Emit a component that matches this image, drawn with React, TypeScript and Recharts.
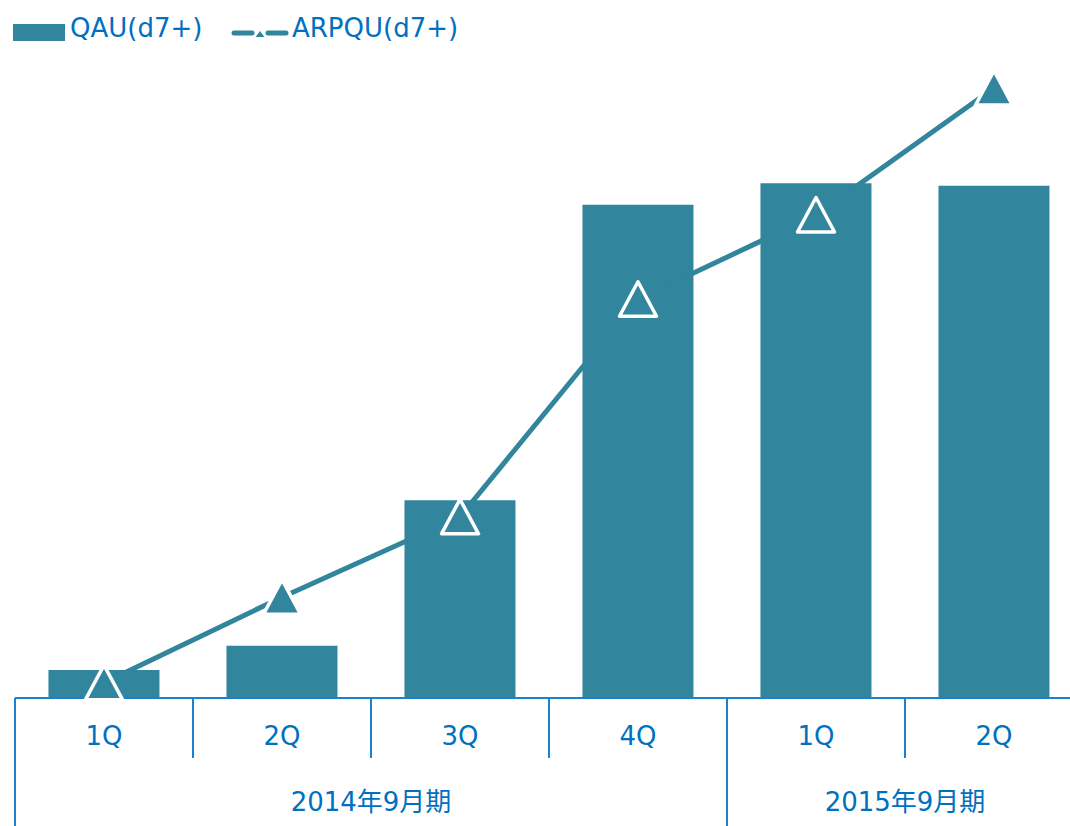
import React from "react";
import { ComposedChart, Bar, Line, XAxis, YAxis, Legend } from "recharts";

// 四半期ラベル、決算期、QAU（棒）と ARPQU（折れ線）の相対値
const quarters = ["1Q", "2Q", "3Q", "4Q", "1Q", "2Q"];
const fiscalYears = [
  "2014年9月期",
  "2014年9月期",
  "2014年9月期",
  "2014年9月期",
  "2015年9月期",
  "2015年9月期",
];
const qau = [4.4, 8.2, 31.0, 77.3, 80.7, 80.3];
const arpqu = [2.4, 15.8, 28.4, 62.5, 75.7, 95.6];

const data = quarters.map((q, i) => ({
  q,
  fy: fiscalYears[i],
  qau: qau[i],
  arpqu: arpqu[i],
}));

const TEAL = "#31859c";
const TEXT = "#0070c0";
const RULE = "#1a80d0";
const FONT = "'DejaVu Sans', Verdana, 'Noto Sans CJK JP', sans-serif";

const CHART_W = 1090;
const CHART_H = 826;
const MARGIN = { top: 4, right: 7, bottom: 0, left: 15 };
const BAND = (CHART_W - MARGIN.left - MARGIN.right) / quarters.length;
const AXIS_H = 64;

function QuarterTick(props: any) {
  const { x, y, payload } = props;
  return (
    <g>
      <line x1={x - BAND / 2} x2={x - BAND / 2} y1={y} y2={y + 60} stroke={RULE} strokeWidth={2} />
      <text x={x} y={y + 47} textAnchor="middle" fill={TEXT} fontSize={26} fontFamily={FONT}>
        {payload.value}
      </text>
    </g>
  );
}

function YearTick(props: any) {
  const { x, y, payload } = props;
  const i = props.index ?? payload.index;
  if (i > 0 && fiscalYears[i - 1] === payload.value) return <g />;
  const count = fiscalYears.filter((f) => f === payload.value).length;
  return (
    <g>
      <line x1={x - BAND / 2} x2={x - BAND / 2} y1={y - AXIS_H} y2={y + AXIS_H} stroke={RULE} strokeWidth={2} />
      <text
        x={x + ((count - 1) * BAND) / 2}
        y={y + 49}
        textAnchor="middle"
        fill={TEXT}
        fontSize={26}
        fontFamily={FONT}
      >
        {payload.value}
      </text>
    </g>
  );
}

function TriangleDot(props: any) {
  const { cx, cy, index } = props;
  if (cx == null || cy == null) return <g key={index} />;
  const d = `M${cx},${cy - 17.5} L${cx + 18.5},${cy + 17} L${cx - 18.5},${cy + 17} Z`;
  return <path key={index} d={d} fill={TEAL} stroke="#ffffff" strokeWidth={3.5} strokeLinejoin="round" />;
}

function LegendBox() {
  return (
    <svg width={480} height={56} style={{ display: "block" }}>
      <rect x={13} y={20} width={52} height={17} fill={TEAL} />
      <text x={70} y={33} fill={TEXT} fontSize={26} fontFamily={FONT}>
        QAU(d7+)
      </text>
      <line x1={234} x2={252} y1={29} y2={29} stroke={TEAL} strokeWidth={5} strokeLinecap="round" />
      <line x1={268} x2={286} y1={29} y2={29} stroke={TEAL} strokeWidth={5} strokeLinecap="round" />
      <path d="M260,27 L264.5,33 L255.5,33 Z" fill={TEAL} />
      <text x={292} y={33} fill={TEXT} fontSize={26} fontFamily={FONT}>
        ARPQU(d7+)
      </text>
    </svg>
  );
}

export default function App() {
  return (
    <div
      style={{
        position: "absolute",
        left: 0,
        top: 0,
        width: 1070,
        height: CHART_H,
        overflow: "hidden",
        background: "#ffffff",
      }}
    >
      <ComposedChart width={CHART_W} height={CHART_H} data={data} margin={MARGIN} barCategoryGap="18.8%">
        <Legend
          verticalAlign="top"
          align="left"
          content={() => <LegendBox />}
          wrapperStyle={{ left: 0, top: 4, width: 480, height: 56 }}
        />
        <XAxis
          dataKey="q"
          height={AXIS_H}
          axisLine={{ stroke: RULE, strokeWidth: 2 }}
          tickLine={false}
          tickSize={0}
          tickMargin={0}
          interval={0}
          tick={QuarterTick}
        />
        <XAxis
          xAxisId="fy"
          dataKey="fy"
          height={AXIS_H}
          axisLine={false}
          tickLine={false}
          tickSize={0}
          tickMargin={0}
          interval={0}
          tick={YearTick}
        />
        <YAxis yAxisId="qau" hide domain={[0, 100]} />
        <YAxis yAxisId="arpqu" hide domain={[0, 100]} />
        <Bar dataKey="qau" yAxisId="qau" fill={TEAL} isAnimationActive={false} />
        <Line
          dataKey="arpqu"
          yAxisId="arpqu"
          stroke={TEAL}
          strokeWidth={5}
          dot={TriangleDot}
          activeDot={false}
          isAnimationActive={false}
        />
      </ComposedChart>
    </div>
  );
}
